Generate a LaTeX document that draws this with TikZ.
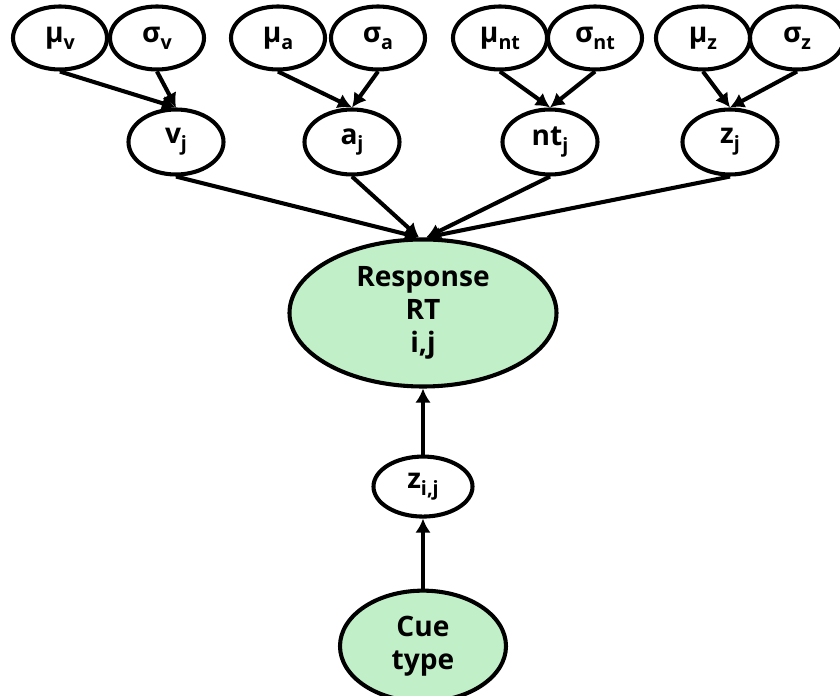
\documentclass[tikz,border=0pt]{standalone}
\usepackage{fontspec}
\setmainfont{Open Sans}
\usetikzlibrary{shapes.geometric, arrows.meta, positioning}
\definecolor{obsgreen}{RGB}{193,240,200}
\newcommand{\lowsub}[1]{\raisebox{-0.45ex}{\fontsize{14}{14}\selectfont #1}}

\begin{document}
\begin{tikzpicture}[
  every node/.style={
    ellipse,
    draw=black, line width=2.9pt,
    inner sep=0pt,
    text centered,
    align=center,
    font=\fontsize{20}{23.5}\selectfont\bfseries
  },
  param node/.style={minimum width=2.35cm, minimum height=1.575cm},
  subj node/.style={minimum width=2.375cm, minimum height=1.625cm},
  obs node/.style={fill=obsgreen},
  >={Latex[length=10pt,width=11pt]}, %filled arrow tips
  myline/.style={draw, line width=2.9pt, black},
  node distance=1.65cm
  ]
\useasboundingbox (0,0) rectangle (21,17.4);
% observed node and the trial level
\node[obs node, minimum width=6.675cm, minimum height=3.675cm] (resp) at (10.575,9.575) {Response\\RT\\i,j};
\node[below=of resp, minimum width=2.475cm, minimum height=1.5cm] (zij) {z\lowsub{i,j}};
\node[obs node, below=1.75cm of zij, minimum width=4.15cm, minimum height=2.775cm] (cue) {Cue\\type};
% subject level
\begin{scope}[every node/.append style={subj node}]
  \node (vj) at (4.4,13.85) {v\lowsub{j}};
  \node (aj) at (8.8,13.85) {a\lowsub{j}};
  \node (ntj) at (13.75,13.85) {nt\lowsub{j}};
  \node (zj) at (18.25,13.85) {z\lowsub{j}};
\end{scope}
% group level
\begin{scope}[every node/.append style={param node}]
  \node (muv) at (1.5,16.45) {μ\lowsub{v}};
  \node (sigv) at (3.925,16.45) {σ\lowsub{v}};
  \node (mua) at (6.95,16.45) {μ\lowsub{a}};
  \node (siga) at (9.45,16.45) {σ\lowsub{a}};
  \node (munt) at (12.5,16.45) {μ\lowsub{nt}};
  \node (signt) at (14.875,16.45) {σ\lowsub{nt}};
  \node (muz) at (17.575,16.45) {μ\lowsub{z}};
  \node (sigz) at (19.925,16.45) {σ\lowsub{z}};
\end{scope}
\path[myline] (muv.south) edge[->] (vj.north)
              (sigv.south) edge[->] (vj.north)
              (mua.south) edge[->] (aj.north)
              (siga.south) edge[->] (aj.north)
              (munt.south) edge[->] (ntj.north)
              (signt.south) edge[->] (ntj.north)
              (muz.south) edge[->] (zj.north)
              (sigz.south) edge[->] (zj.north)
              ;
\path[myline] (vj.south) edge[->] ([xshift=-0.1cm]resp.north)
              (aj.south) edge[->] ([xshift=-0.1cm]resp.north)
              (ntj.south) edge[->] ([xshift=0.08cm]resp.north)
              (zj.south) edge[->] ([xshift=0.08cm]resp.north)
              (zij) edge[->] (resp)
              (cue) edge[->] (zij)
              ;
\end{tikzpicture}
\end{document}
